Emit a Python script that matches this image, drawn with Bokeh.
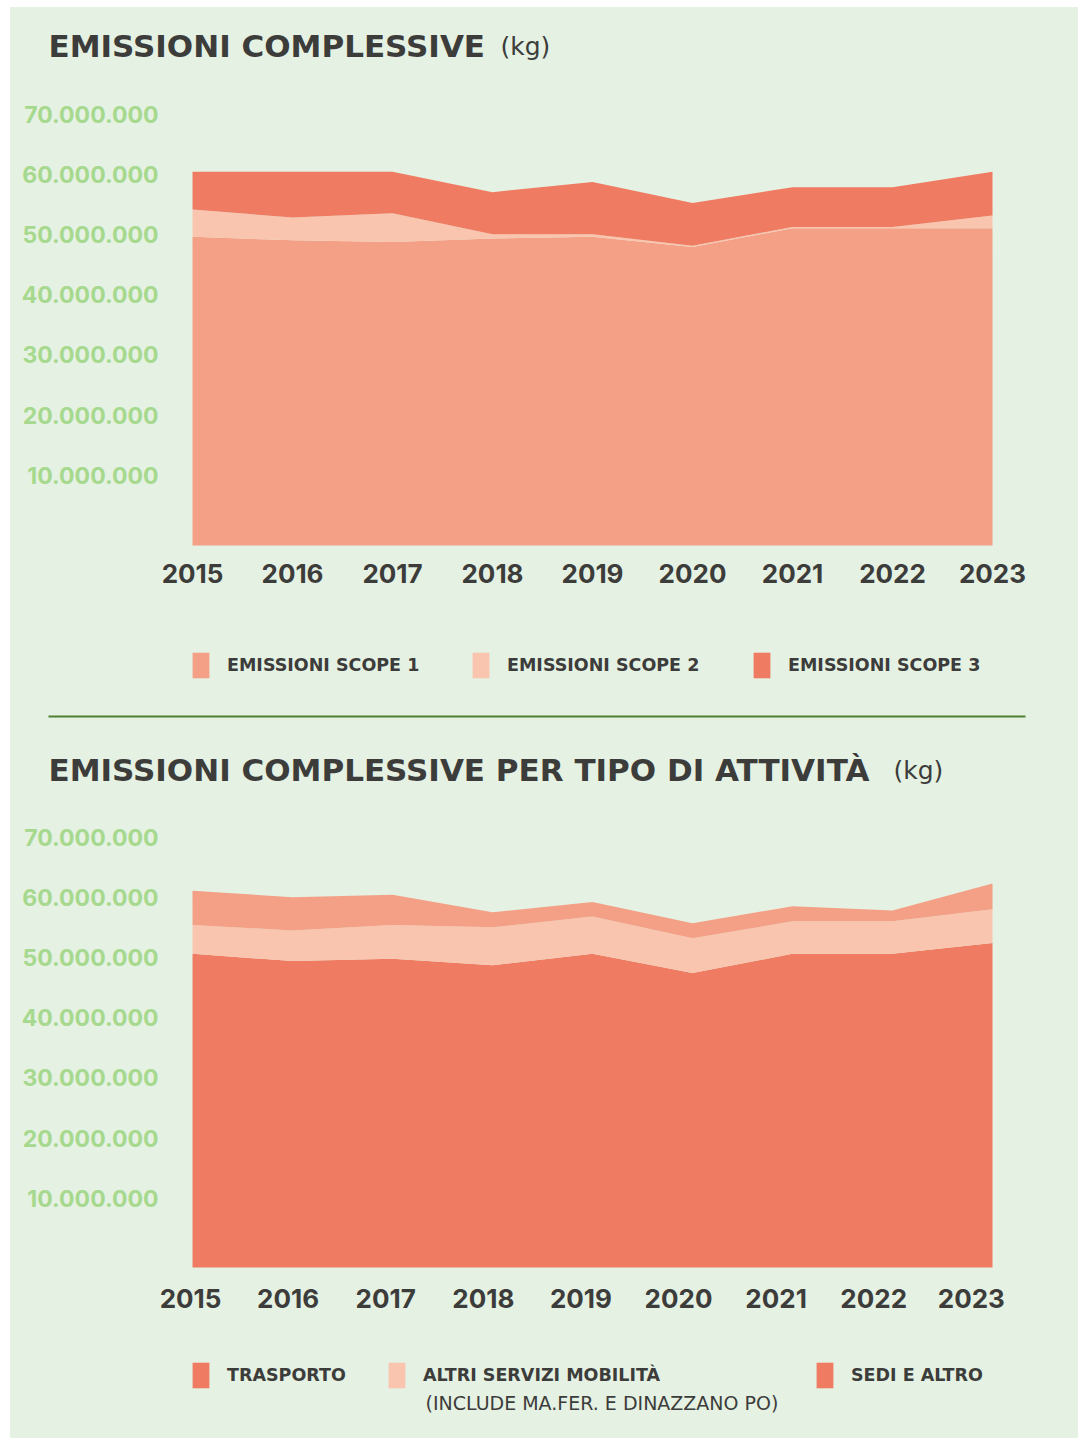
from bokeh.plotting import figure
from bokeh.models import (Range1d, Legend, LegendItem, Label, ColumnDataSource, BoxAnnotation)
from bokeh.core.properties import value
from bokeh.layouts import column
from bokeh.embed import file_html
from bokeh.resources import INLINE

# ---------------- data ----------------
years = [2015, 2016, 2017, 2018, 2019, 2020, 2021, 2022, 2023]
year_labels = ["2015", "2016", "2017", "2018", "2019", "2020", "2021", "2022", "2023"]

# chart 1: emissions by scope (kg)
scope1 = [51.3e6, 50.7e6, 50.4e6, 51.0e6, 51.3e6, 49.6e6, 52.7e6, 52.7e6, 52.7e6]
scope2 = [4.5e6, 3.8e6, 4.8e6, 0.7e6, 0.4e6, 0.2e6, 0.2e6, 0.2e6, 2.1e6]
scope3 = [6.3e6, 7.6e6, 6.9e6, 7.0e6, 8.7e6, 7.1e6, 6.6e6, 6.6e6, 7.3e6]

# chart 2: emissions by activity (kg)
trasporto = [52.1e6, 50.9e6, 51.3e6, 50.2e6, 52.1e6, 48.9e6, 52.1e6, 52.1e6, 53.9e6]
altri = [4.8e6, 5.1e6, 5.6e6, 6.3e6, 6.2e6, 5.8e6, 5.4e6, 5.4e6, 5.6e6]
sedi = [5.7e6, 5.5e6, 5.0e6, 2.5e6, 2.4e6, 2.5e6, 2.5e6, 1.8e6, 4.3e6]

y_ticks = [10_000_000, 20_000_000, 30_000_000, 40_000_000, 50_000_000, 60_000_000, 70_000_000]
y_tick_labels = ["10.000.000", "20.000.000", "30.000.000", "40.000.000",
                 "50.000.000", "60.000.000", "70.000.000"]

title1 = "EMISSIONI COMPLESSIVE"
title2 = "EMISSIONI COMPLESSIVE PER TIPO DI ATTIVITÀ"
unit = "(kg)"
legend1 = ["EMISSIONI SCOPE 1", "EMISSIONI SCOPE 2", "EMISSIONI SCOPE 3"]
legend2 = ["TRASPORTO", "ALTRI SERVIZI MOBILITÀ", "SEDI E ALTRO"]
legend2_note = "(INCLUDE MA.FER. E DINAZZANO PO)"

# ---------------- style ----------------
BG = "#E5F1E2"
C_MED = "#F4A086"
C_LIGHT = "#F9C5AE"
C_DARK = "#EF7C62"
TXT = "#3C3C3B"
YLAB = "#A6D98E"
SEP = "#4F7F30"
FNUM = "Inter"
FTXT = "DejaVu Sans"
W = 1068
PX_PER_YEAR = 100.0
PX_PER_UNIT = 6.02e-6   # px per kg
LEFT_PX = 182           # x pixel of first year inside the figure


def make_fig(height, base_px):
    span_years = W / PX_PER_YEAR
    xs = years[0] - LEFT_PX / PX_PER_YEAR
    y_top = base_px / PX_PER_UNIT
    y_bot = -(height - base_px) / PX_PER_UNIT
    p = figure(width=W, height=height, output_backend="svg", toolbar_location=None,
               x_range=Range1d(xs, xs + span_years), y_range=Range1d(y_bot, y_top),
               x_axis_location=None, y_axis_location=None, min_border=0,
               background_fill_color=BG, border_fill_color=BG,
               outline_line_color=None)
    p.xgrid.visible = False
    p.ygrid.visible = False
    return p


def add_axes_text(p, lab_dy, year_dy, x_range_name="default"):
    ysrc = ColumnDataSource(dict(x=[years[0]] * len(y_ticks), y=y_ticks, t=y_tick_labels))
    p.text(x="x", y="y", text="t", source=ysrc, x_offset=-34, y_offset=lab_dy,
           text_align="right", text_baseline="middle", text_font=value(FNUM),
           text_font_style="bold", text_font_size="23px", text_color=YLAB)
    xsrc = ColumnDataSource(dict(x=years, y=[0] * len(years), t=year_labels))
    p.text(x="x", y="y", text="t", source=xsrc, y_offset=year_dy,
           text_align="center", text_baseline="middle", text_font=value(FNUM),
           text_font_style="bold", text_font_size="26px", text_color=TXT,
           x_range_name=x_range_name)


def add_title(p, text, x, y, unit_x):
    p.add_layout(Label(x=x, y=y, x_units="screen", y_units="screen", text=text,
                       text_font=FTXT, text_font_style="bold", text_font_size="31px",
                       text_color=TXT, text_baseline="alphabetic"))
    p.add_layout(Label(x=unit_x, y=y, x_units="screen", y_units="screen", text=unit,
                       text_font=FTXT, text_font_size="25px",
                       text_color=TXT, text_baseline="alphabetic"))


def add_legend(p, label, renderer, x, y):
    leg = Legend(items=[LegendItem(label=label, renderers=[renderer])],
                 location=(x, y), orientation="horizontal",
                 glyph_width=21, glyph_height=32, label_standoff=16,
                 padding=0, margin=0, spacing=0,
                 border_line_color=None, background_fill_alpha=0,
                 label_text_font=FTXT, label_text_font_style="bold",
                 label_text_font_size="17.5px", label_text_color=TXT)
    p.add_layout(leg, "center")


# ---------------- chart 1 ----------------
H1 = 713
src1 = ColumnDataSource(dict(year=years, s1=scope1, s2=scope2, s3=scope3))
p1 = make_fig(H1, 538)
r1 = p1.varea_stack(stackers=["s1", "s2", "s3"], x="year", source=src1,
                    color=[C_MED, C_LIGHT, C_DARK])
add_axes_text(p1, -10, 28)
add_title(p1, title1, 38, H1 - 38.5, 490)
add_legend(p1, legend1[0], r1[0], 180, 39)
add_legend(p1, legend1[1], r1[1], 460, 39)
add_legend(p1, legend1[2], r1[2], 741, 39)
p1.add_layout(BoxAnnotation(left=38, right=1015, top=708, bottom=710,
                            left_units="canvas", right_units="canvas",
                            top_units="canvas", bottom_units="canvas",
                            fill_color=SEP, fill_alpha=1, line_color=None))

# ---------------- chart 2 ----------------
H2 = 718
src2 = ColumnDataSource(dict(year=years, t=trasporto, a=altri, s=sedi))
p2 = make_fig(H2, 547)
# the year labels of this chart sit on a slightly tighter spacing than its data points
p2.extra_x_ranges = {"xlab": Range1d(2013.1557, 2013.1557 + W / 97.6)}
r2 = p2.varea_stack(stackers=["t", "a", "s"], x="year", source=src2,
                    color=[C_DARK, C_LIGHT, C_MED])
add_axes_text(p2, -9, 30.5, x_range_name="xlab")
add_title(p2, title2, 38, H2 - 49.5, 883)
add_legend(p2, legend2[0], r2[0], 180, 47)
add_legend(p2, legend2[1], r2[1], 376, 47)
add_legend(p2, legend2[2], r2[0], 804, 47)
p2.add_layout(Label(x=415, y=36, x_units="screen", y_units="screen", text=legend2_note,
                    text_font=FTXT, text_font_size="19px", text_color=TXT,
                    text_baseline="middle"))

layout = column(p1, p2, spacing=0, margin=(7, 0, 0, 10), styles={"background-color": BG})
open("out.html", "w").write(file_html(layout, INLINE))
